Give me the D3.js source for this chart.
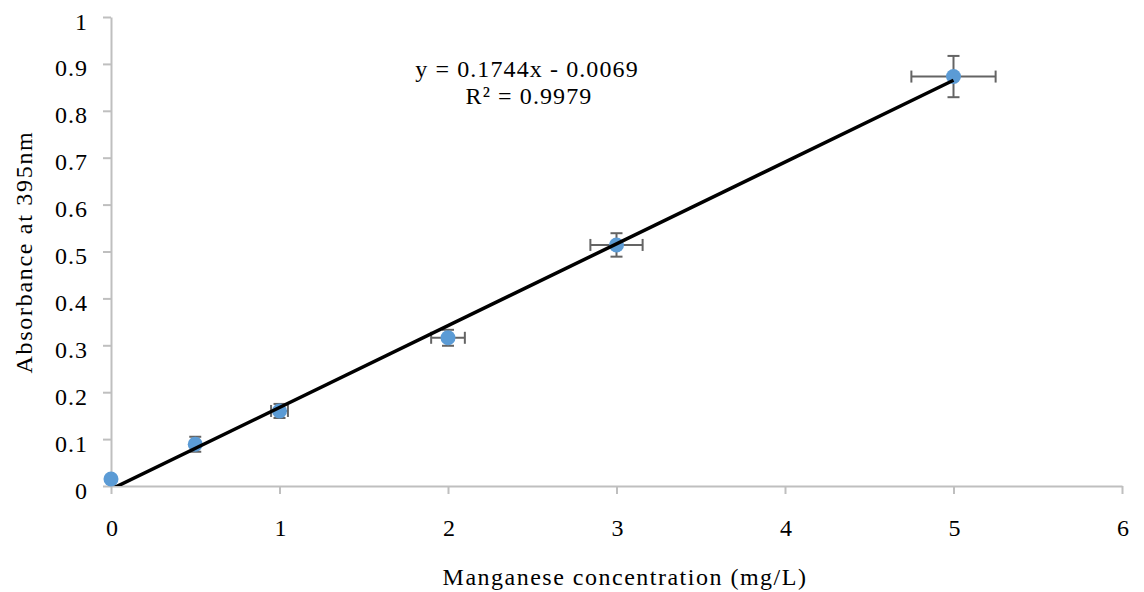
<!DOCTYPE html>
<html><head><meta charset="utf-8">
<script src="https://cdn.jsdelivr.net/npm/d3@7"></script>
<style>body{margin:0;background:#fff}svg{display:block}</style>
</head><body><svg id="c" width="1144" height="592"></svg>
<script>
const xValues = [0, 0.5, 1, 2, 3, 5];
const yValues = [0.015, 0.089, 0.16, 0.316, 0.514, 0.873];
const xErrors = [0, 0.02, 0.05, 0.1, 0.155, 0.25];
const yErrors = [0, 0.016, 0.015, 0.017, 0.025, 0.044];
const xTicks = [0, 1, 2, 3, 4, 5, 6];
const yTicks = [0, 0.1, 0.2, 0.3, 0.4, 0.5, 0.6, 0.7, 0.8, 0.9, 1];
const slope = 0.1744, intercept = -0.0069;
const eqLines = ["y = 0.1744x - 0.0069", "R\u00b2 = 0.9979"];
const xTitle = "Manganese concentration (mg/L)";
const yTitle = "Absorbance at 395nm";

const FONT = "Liberation Serif, DejaVu Serif, serif";
const svg = d3.select("#c");
const x = d3.scaleLinear().domain([0, 6]).range([111, 1122]);
const y = d3.scaleLinear().domain([0, 1]).range([486, 17]);
const axisColor = "#bfbfbf";

// axes
const xa = svg.append("g").attr("transform", `translate(0,${y(0)})`)
  .call(d3.axisBottom(x).tickValues(xTicks).tickFormat(d3.format("d")).tickSizeInner(8).tickSizeOuter(0).tickPadding(25));
const ya = svg.append("g").attr("transform", `translate(${x(0)},0)`)
  .call(d3.axisLeft(y).tickValues(yTicks).tickFormat(d => d === 0 ? "0" : d === 1 ? "1" : d3.format(".1f")(d)).tickSizeInner(8).tickSizeOuter(0).tickPadding(15));
[xa, ya].forEach(a => {
  a.attr("font-family", null).attr("font-size", null);
  a.select(".domain").attr("stroke", axisColor).attr("stroke-width", 2);
  a.selectAll(".tick line").attr("stroke", axisColor).attr("stroke-width", 2);
  a.selectAll(".tick text").attr("font-size", 24).attr("fill", "#000").attr("letter-spacing", 1)
    .attr("font-family", FONT).style("font-family", FONT);
});
ya.selectAll(".tick text").attr("dy", "0.5em");
xa.selectAll(".tick text").attr("dx", 1);

// clip
svg.append("clipPath").attr("id", "pc").append("rect")
  .attr("x", x(0)).attr("y", y(1)).attr("width", x(6) - x(0)).attr("height", y(0) - y(1));

const data = xValues.map((v, i) => ({x: v, y: yValues[i], ex: xErrors[i], ey: yErrors[i]}));

// error bars
const eb = svg.append("g").attr("stroke", "#646464").attr("stroke-width", 2);
const cap = 6;
data.filter(d => d.ex > 0).forEach(d => {
  eb.append("line").attr("x1", x(d.x - d.ex)).attr("x2", x(d.x + d.ex)).attr("y1", y(d.y)).attr("y2", y(d.y));
  eb.append("line").attr("x1", x(d.x - d.ex)).attr("x2", x(d.x - d.ex)).attr("y1", y(d.y) - cap).attr("y2", y(d.y) + cap);
  eb.append("line").attr("x1", x(d.x + d.ex)).attr("x2", x(d.x + d.ex)).attr("y1", y(d.y) - cap).attr("y2", y(d.y) + cap);
});
data.filter(d => d.ey > 0).forEach(d => {
  eb.append("line").attr("x1", x(d.x)).attr("x2", x(d.x)).attr("y1", y(d.y - d.ey)).attr("y2", y(d.y + d.ey));
  eb.append("line").attr("x1", x(d.x) - cap).attr("x2", x(d.x) + cap).attr("y1", y(d.y - d.ey)).attr("y2", y(d.y - d.ey));
  eb.append("line").attr("x1", x(d.x) - cap).attr("x2", x(d.x) + cap).attr("y1", y(d.y + d.ey)).attr("y2", y(d.y + d.ey));
});

// points
svg.append("g").selectAll("circle").data(data).join("circle")
  .attr("cx", d => x(d.x)).attr("cy", d => y(d.y)).attr("r", 7.5).attr("fill", "#5b9bd5");

// trendline
svg.append("line").attr("clip-path", "url(#pc)")
  .attr("x1", x(0)).attr("y1", y(intercept)).attr("x2", x(5)).attr("y2", y(slope * 5 + intercept))
  .attr("stroke", "#000").attr("stroke-width", 3.5);

// texts
function label(sel, ls) {
  return sel.attr("font-family", FONT).style("font-family", FONT).attr("font-size", 24)
    .attr("letter-spacing", ls).attr("text-anchor", "middle").attr("fill", "#000");
}
label(svg.append("text"), 1.1).attr("x", 527).attr("y", 77).text(eqLines[0]);
label(svg.append("text"), 1.1).attr("x", 529).attr("y", 104).text(eqLines[1]);
label(svg.append("text"), 1.5).attr("x", 625).attr("y", 585).text(xTitle);
label(svg.append("text"), 1.7).attr("transform", "translate(32,252) rotate(-90)").text(yTitle);
</script></body></html>
